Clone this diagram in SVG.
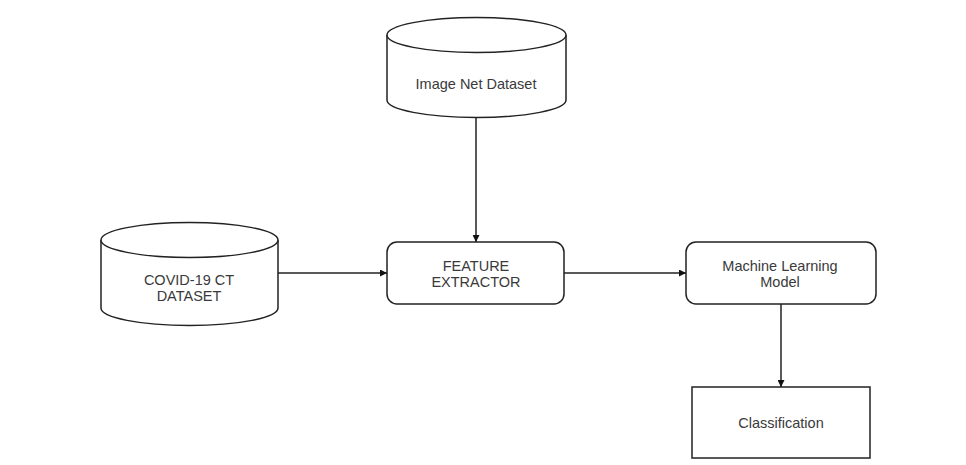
<svg xmlns="http://www.w3.org/2000/svg" width="966" height="465" viewBox="0 0 966 465">
<defs>
<style>
.shape{fill:#fff;stroke:#222;stroke-width:1.5}
.lbl{font-family:"Liberation Sans",Arial,sans-serif;font-size:14.5px;fill:#3a3a3a;text-anchor:middle}
.edge{stroke:#222;stroke-width:1.5;fill:none}
</style>
<marker id="arr" viewBox="0 0 10 10" refX="10" refY="5" markerWidth="7" markerHeight="7" orient="auto" markerUnits="userSpaceOnUse">
<path d="M0,0 L10,5 L0,10 z" fill="#111"/>
</marker>
</defs>
<rect width="966" height="465" fill="#fff"/>
<g id="connectors">
<line class="edge" x1="476" y1="118" x2="476" y2="242" marker-end="url(#arr)"/>
<line class="edge" x1="278" y1="273" x2="387" y2="273" marker-end="url(#arr)"/>
<line class="edge" x1="564" y1="273" x2="686" y2="273" marker-end="url(#arr)"/>
<line class="edge" x1="781" y1="304" x2="781" y2="387" marker-end="url(#arr)"/>
</g>
<g id="imagenet">
<path class="shape" d="M387,35 A89.5,17.5 0 0 1 566,35 L566,100 A89.5,17.5 0 0 1 387,100 Z"/>
<path class="shape" d="M387,35 A89.5,17.5 0 0 0 566,35"/>
<text class="lbl" x="476" y="89">Image Net Dataset</text>
</g>
<g id="covid">
<path class="shape" d="M101,240 A88.5,17.5 0 0 1 278,240 L278,308 A88.5,17.5 0 0 1 101,308 Z"/>
<path class="shape" d="M101,240 A88.5,17.5 0 0 0 278,240"/>
<text class="lbl" x="189" y="285">COVID-19 CT</text>
<text class="lbl" x="189" y="301">DATASET</text>
</g>
<g id="feature">
<rect class="shape" x="387" y="242" width="177" height="62" rx="10"/>
<text class="lbl" x="476" y="271">FEATURE</text>
<text class="lbl" x="476" y="287">EXTRACTOR</text>
</g>
<g id="ml">
<rect class="shape" x="686" y="242" width="190" height="62" rx="10"/>
<text class="lbl" x="780" y="271">Machine Learning</text>
<text class="lbl" x="780" y="287">Model</text>
</g>
<g id="classification">
<rect class="shape" x="692" y="387" width="178" height="71"/>
<text class="lbl" x="781" y="428">Classification</text>
</g>
</svg>
